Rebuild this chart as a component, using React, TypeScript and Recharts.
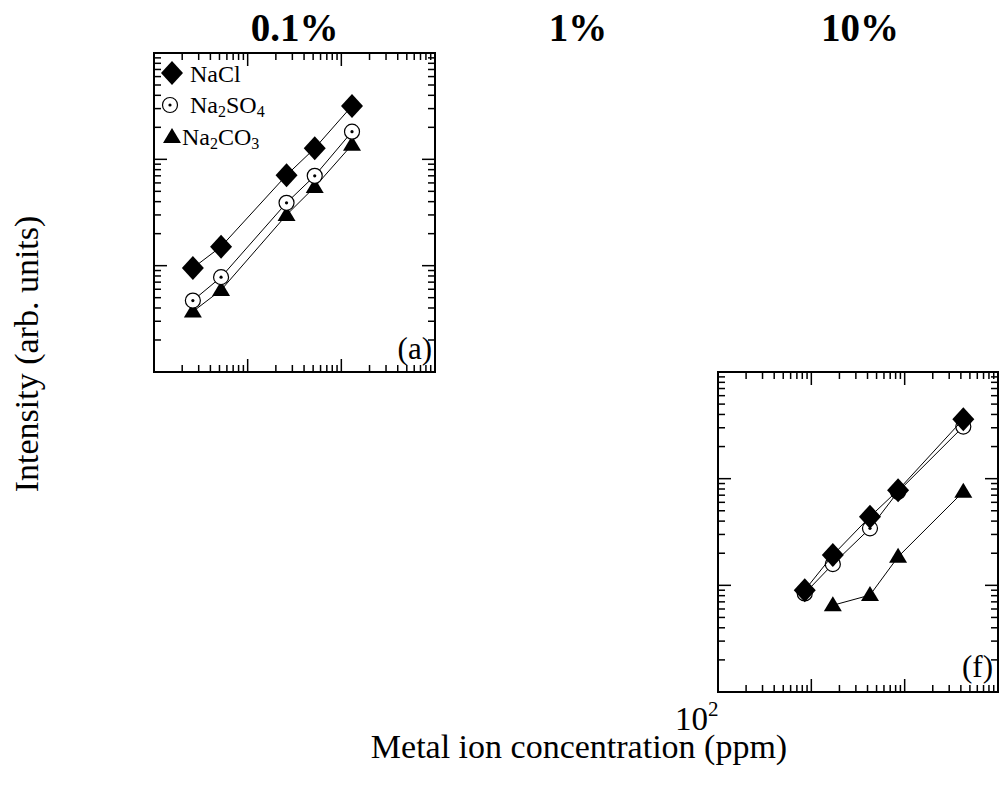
import React from 'react';
import { ScatterChart, Scatter, XAxis, YAxis, ReferenceArea } from 'recharts';

const FONT = '"Liberation Serif", "Times New Roman", Times, serif';

// log axis ticks (minor + major), ends of the domain are the frame itself
const xTicks = [20, 30, 40, 50, 60, 70, 80, 90, 100, 200, 300, 400, 500, 600, 700, 800, 900, 1000, 2000, 3000, 4000, 5000, 6000, 7000, 8000, 9000];
const yTicks = [2, 3, 4, 5, 6, 7, 8, 9, 10, 20, 30, 40, 50, 60, 70, 80, 90, 100, 200, 300, 400, 500, 600, 700, 800, 900];
const majorX = [100, 1000];
const majorY = [10, 100];

const columnTitles = ['0.1%', '1%', '10%'];

// panel (a): 0.1%
const concA = [26, 52, 260, 520, 1300];
const naclA = [9.5, 15.1, 71, 127, 318];
const na2so4A = [4.7, 7.8, 39, 70, 182];
const na2co3A = [3.7, 5.9, 30, 55, 137];

// panel (f): 10%
const concF = [85, 170, 425, 850, 4250];
const naclF = [9.0, 19.2, 44, 78, 361];
const na2so4F = [8.4, 15.8, 34.2, 75.5, 308];
const concF2 = [170, 425, 850, 4250];
const na2co3F = [6.5, 8.1, 18.5, 75.5];

const toPoints = (xs: number[], ys: number[]) => xs.map((x, i) => ({ x, y: ys[i] }));

const diamond = (cx: number, cy: number) => (
  <polygon points={`${cx},${cy - 12} ${cx + 11},${cy} ${cx},${cy + 12} ${cx - 11},${cy}`} fill="#000" />
);
const openCircle = (cx: number, cy: number) => (
  <g>
    <circle cx={cx} cy={cy} r={7.5} fill="#fff" stroke="#000" strokeWidth={1.2} />
    <circle cx={cx} cy={cy} r={1.6} fill="#000" />
  </g>
);
const triangle = (cx: number, cy: number) => (
  <polygon points={`${cx},${cy - 9} ${cx + 9},${cy + 6} ${cx - 9},${cy + 6}`} fill="#000" />
);

const markers: Record<string, (cx: number, cy: number) => JSX.Element> = {
  NaCl: diamond,
  Na2SO4: openCircle,
  Na2CO3: triangle,
};

interface Series {
  name: string;
  data: { x: number; y: number }[];
}

interface PanelProps {
  left: number;
  top: number;
  width: number;
  height: number;
  series: Series[];
}

function Panel({ left, top, width, height, series }: PanelProps) {
  const m = 14;
  const plotTop = m;
  const plotBottom = m + height;
  const plotLeft = m;
  const plotRight = m + width;

  const renderXTick = (p: any) => {
    const len = majorX.includes(p.payload.value) ? 13 : 7;
    return (
      <g>
        <line x1={p.x} x2={p.x} y1={plotBottom} y2={plotBottom - len} stroke="#000" strokeWidth={1.5} />
        <line x1={p.x} x2={p.x} y1={plotTop} y2={plotTop + len} stroke="#000" strokeWidth={1.5} />
      </g>
    );
  };
  const renderYTick = (p: any) => {
    const len = majorY.includes(p.payload.value) ? 13 : 7;
    return (
      <g>
        <line x1={plotLeft} x2={plotLeft + len} y1={p.y} y2={p.y} stroke="#000" strokeWidth={1.5} />
        <line x1={plotRight} x2={plotRight - len} y1={p.y} y2={p.y} stroke="#000" strokeWidth={1.5} />
      </g>
    );
  };

  // draw order: carbonate, sulfate, chloride on top
  const ordered = [...series].reverse();

  return (
    <div style={{ position: 'absolute', left: left - m, top: top - m }}>
      <ScatterChart width={width + 2 * m} height={height + 2 * m} margin={{ top: m, right: m, bottom: m - 1, left: m - 1 }}>
        <XAxis
          type="number"
          dataKey="x"
          scale="log"
          domain={[10, 10000]}
          allowDataOverflow
          ticks={xTicks}
          interval={0}
          height={1}
          tickSize={0}
          tickMargin={0}
          axisLine={false}
          tickLine={false}
          tick={renderXTick}
        />
        <YAxis
          type="number"
          dataKey="y"
          scale="log"
          domain={[1, 1000]}
          allowDataOverflow
          ticks={yTicks}
          interval={0}
          width={1}
          tickSize={0}
          tickMargin={0}
          axisLine={false}
          tickLine={false}
          tick={renderYTick}
        />
        <ReferenceArea x1={10} x2={10000} y1={1} y2={1000} fill="none" fillOpacity={0} stroke="#000" strokeWidth={2} />
        {ordered.map((s) => (
          <Scatter
            key={s.name}
            name={s.name}
            data={s.data}
            line={{ stroke: '#000', strokeWidth: 1 }}
            lineType="joint"
            shape={(p: any) => markers[s.name](p.cx, p.cy)}
            isAnimationActive={false}
          />
        ))}
      </ScatterChart>
    </div>
  );
}

const seriesA: Series[] = [
  { name: 'NaCl', data: toPoints(concA, naclA) },
  { name: 'Na2SO4', data: toPoints(concA, na2so4A) },
  { name: 'Na2CO3', data: toPoints(concA, na2co3A) },
];

const seriesF: Series[] = [
  { name: 'NaCl', data: toPoints(concF, naclF) },
  { name: 'Na2SO4', data: toPoints(concF, na2so4F) },
  { name: 'Na2CO3', data: toPoints(concF2, na2co3F) },
];

function Formula({ name }: { name: string }) {
  // digits become subscripts
  const parts = name.split(/(\d)/).filter(Boolean);
  return (
    <>
      {parts.map((part, i) =>
        /\d/.test(part) ? (
          <tspan key={i} fontSize={16} dy={4}>
            {part}
          </tspan>
        ) : (
          <tspan key={i} fontSize={24} dy={i > 0 ? -4 : 0}>
            {part}
          </tspan>
        )
      )}
    </>
  );
}

export default function App() {
  const legendRows = [
    { name: 'NaCl', mx: 172, my: 73, tx: 190, ty: 82 },
    { name: 'Na2SO4', mx: 170, my: 105, tx: 190, ty: 113 },
    { name: 'Na2CO3', mx: 172, my: 137, tx: 182, ty: 145 },
  ];
  const titleX = [294.5, 578, 860];

  return (
    <div style={{ position: 'fixed', left: 0, top: 0, width: 999, height: 785, background: '#fff', fontFamily: FONT }}>
      <Panel left={154} top={53} width={281} height={319} series={seriesA} />
      <Panel left={718} top={372} width={280} height={320} series={seriesF} />
      <svg width={999} height={785} style={{ position: 'absolute', left: 0, top: 0, pointerEvents: 'none' }} fontFamily={FONT}>
        {columnTitles.map((t, i) => (
          <text key={t} x={titleX[i]} y={41} textAnchor="middle" fontSize={39} fontWeight="bold">
            {t}
          </text>
        ))}
        {legendRows.map((r) => (
          <g key={r.name}>
            {markers[r.name](r.mx, r.my)}
            <text x={r.tx} y={r.ty}>
              <Formula name={r.name} />
            </text>
          </g>
        ))}
        <text x={432} y={359} textAnchor="end" fontSize={31}>(a)</text>
        <text x={993} y={677} textAnchor="end" fontSize={31}>(f)</text>
        <text x={38} y={354} textAnchor="middle" fontSize={34} transform="rotate(-90, 38, 354)">
          Intensity (arb. units)
        </text>
        <text x={579} y={758} textAnchor="middle" fontSize={34}>
          Metal ion concentration (ppm)
        </text>
        <text x={675} y={730} fontSize={33}>10</text>
        <text x={708} y={716} fontSize={21}>2</text>
      </svg>
    </div>
  );
}
